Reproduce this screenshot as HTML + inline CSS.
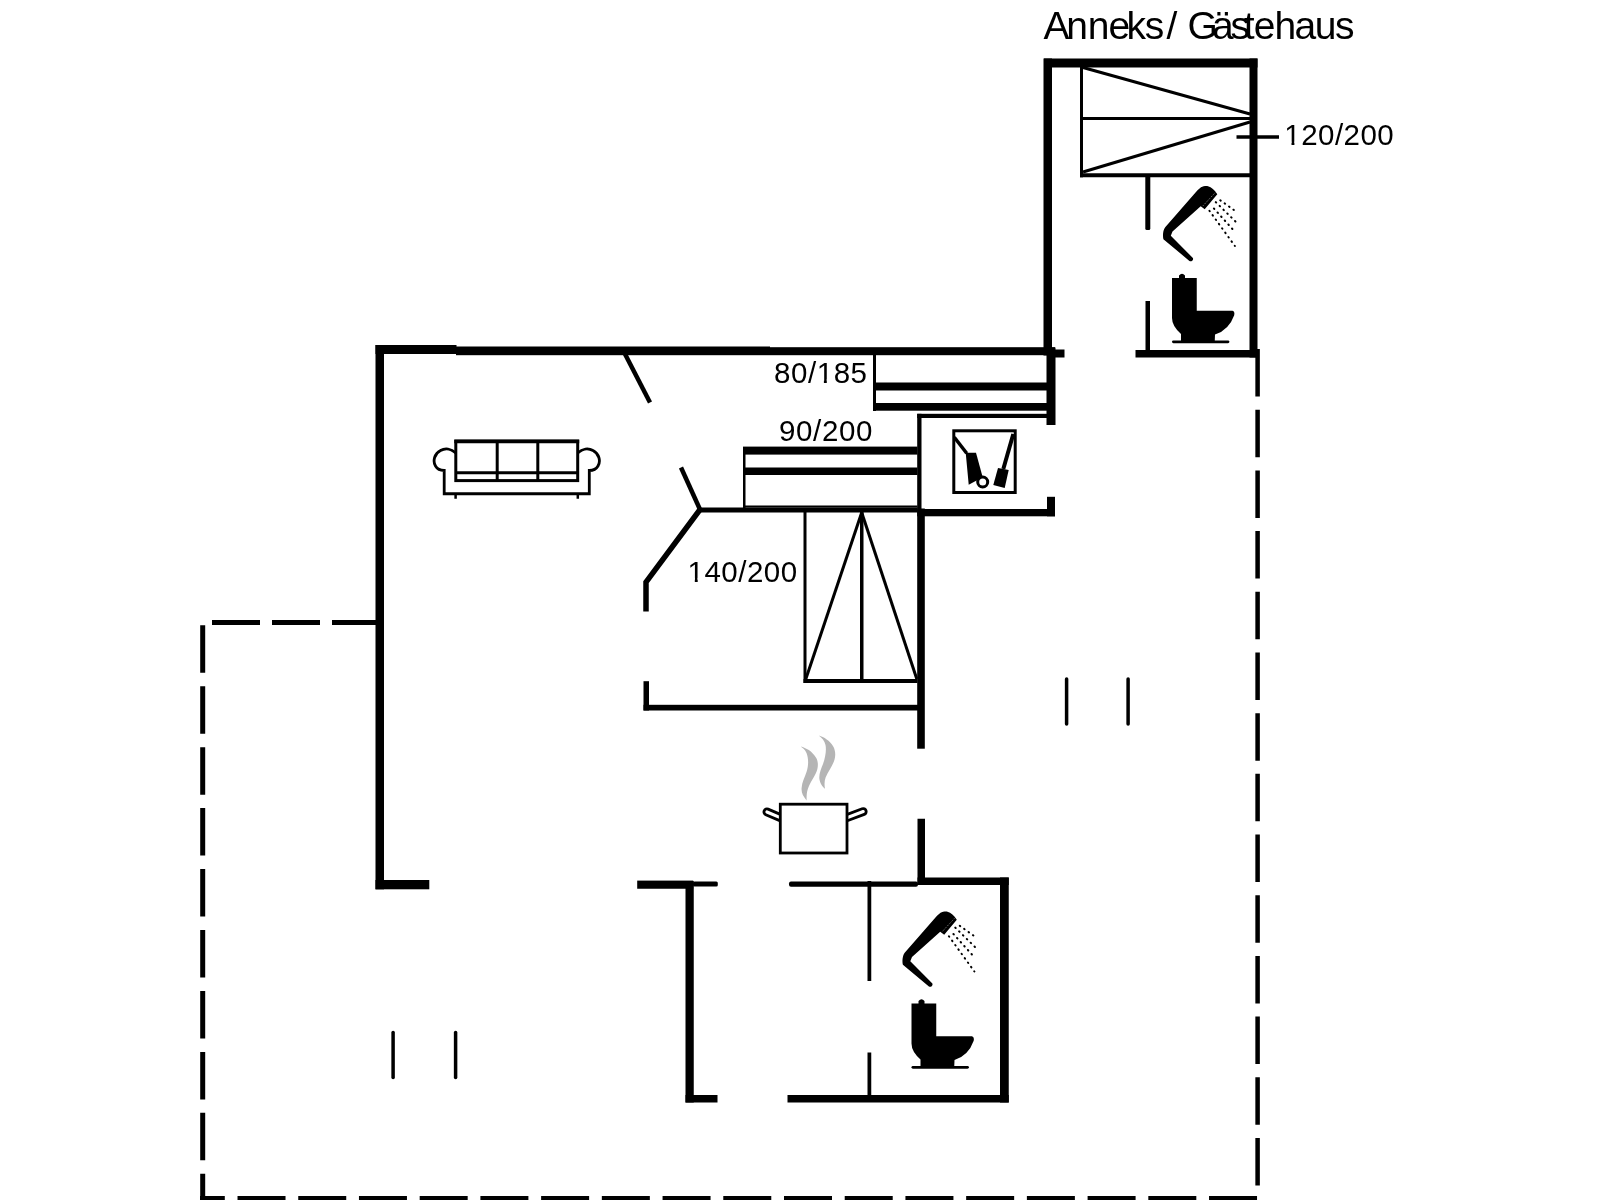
<!DOCTYPE html>
<html><head><meta charset="utf-8">
<style>
html,body{margin:0;padding:0;background:#fff;width:1600px;height:1200px;overflow:hidden}
svg{display:block;will-change:transform}
text{font-family:"Liberation Sans",sans-serif;fill:#000}
</style></head><body>
<svg width="1600" height="1200" viewBox="0 0 1600 1200">
<rect x="0" y="0" width="1600" height="1200" fill="#fff"/>
<g fill="#000">
<!-- annex walls -->
<rect x="1044" y="58.5" width="213.5" height="9"/>
<rect x="1043.5" y="58.5" width="8.5" height="297"/>
<rect x="1249.5" y="58.5" width="8" height="299"/>
<rect x="1135.5" y="350" width="122.5" height="7.5"/>
<rect x="1145.3" y="174" width="5" height="56" rx="1.5"/>
<rect x="1145.5" y="301" width="4.5" height="50"/>
<!-- main house walls -->
<rect x="375.5" y="345" width="81" height="9"/>
<rect x="456" y="346.5" width="314" height="8.7"/>
<rect x="770" y="347.2" width="285" height="8"/>
<rect x="1050" y="349.5" width="14.5" height="8"/>
<rect x="375.5" y="345" width="8.5" height="544.3"/>
<rect x="375.5" y="880" width="53.8" height="9.3"/>
<rect x="1046.5" y="347.5" width="9" height="77.5"/>
<rect x="917.2" y="413.8" width="4.3" height="95.2"/>
<rect x="917.2" y="508.5" width="7.6" height="240.2"/>
<rect x="1047" y="496.8" width="8" height="19.5"/>
<rect x="917.2" y="509" width="137.8" height="7.3"/>
<rect x="917.5" y="818.75" width="7.5" height="66.25"/>
<rect x="917.5" y="877.5" width="91.25" height="7.5"/>
<rect x="789" y="881.5" width="129" height="5.25" rx="2"/>
<rect x="1000" y="877.5" width="8.75" height="225"/>
<rect x="787.5" y="1095" width="221.25" height="7.5"/>
<rect x="867.5" y="881" width="3.75" height="100"/>
<rect x="867.5" y="1052.5" width="3.75" height="42.5"/>
<rect x="637.2" y="880.6" width="56" height="8.15"/>
<rect x="693" y="881.6" width="24.8" height="5" rx="1.5"/>
<rect x="685.5" y="881" width="8.25" height="221.5"/>
<rect x="685.5" y="1095" width="32" height="7.5"/>
<!-- bunk 80/185 -->
<rect x="873" y="355" width="3" height="56"/>
<rect x="873" y="382.5" width="174" height="8"/>
<rect x="873" y="403" width="174" height="7.7"/>
<rect x="917.2" y="413.8" width="130" height="4.2"/>
<!-- bed 90/200 -->
<rect x="743" y="446.6" width="174.5" height="8"/>
<rect x="743" y="467.5" width="174.5" height="7.5"/>
<rect x="743" y="447" width="2.5" height="62"/>
<rect x="743" y="505.5" width="174.5" height="2.1"/>
<rect x="698.6" y="507.5" width="219" height="5"/>
<!-- lower door frame -->
<rect x="643.5" y="681.2" width="5.5" height="29.3"/>
<rect x="643.5" y="704.8" width="275" height="5.7"/>
<!-- bed 140/200 -->
<rect x="803.5" y="512" width="3" height="171"/>
<rect x="803.5" y="679" width="114" height="4"/>
<rect x="860" y="512" width="3.5" height="169"/>
</g>
<g stroke="#000" fill="none" stroke-linecap="butt">
<!-- annex bed -->
<line x1="1081.5" y1="67" x2="1081.5" y2="177.3" stroke-width="3"/>
<line x1="1080" y1="175.3" x2="1250" y2="175.3" stroke-width="4"/>
<line x1="1081.5" y1="118.5" x2="1250" y2="118.5" stroke-width="3"/>
<line x1="1083" y1="67.5" x2="1250" y2="114" stroke-width="3"/>
<line x1="1250" y1="122" x2="1083" y2="172" stroke-width="3"/>
<line x1="1236.5" y1="137" x2="1279" y2="137" stroke-width="3.7"/>
<!-- doors -->
<line x1="625" y1="354" x2="650" y2="402.5" stroke-width="4.5"/>
<line x1="681" y1="467.5" x2="700" y2="509.5" stroke-width="4.5"/>
<polyline points="700,509.5 646,582.2 646,611.5" stroke-width="5.5"/>
<!-- bed 140 triangles -->
<line x1="861.7" y1="512.5" x2="805.5" y2="680" stroke-width="3"/>
<line x1="861.7" y1="512.5" x2="916.8" y2="679" stroke-width="3"/>
<!-- small lines -->
<line x1="393.1" y1="1032.5" x2="393.1" y2="1077.5" stroke-width="3.5" stroke-linecap="round"/>
<line x1="455.6" y1="1032.5" x2="455.6" y2="1077.5" stroke-width="3.5" stroke-linecap="round"/>
<line x1="1066.6" y1="679" x2="1066.6" y2="724" stroke-width="3.5" stroke-linecap="round"/>
<line x1="1128.1" y1="679" x2="1128.1" y2="724" stroke-width="3.5" stroke-linecap="round"/>
</g>
<!-- dashed outlines -->
<g stroke="#000" fill="none" stroke-width="5">
<line x1="202.7" y1="625.3" x2="202.7" y2="1200" stroke-dasharray="47.5 13.44"/>
<line x1="212" y1="622.4" x2="376" y2="622.4" stroke-dasharray="48 12"/>
<line x1="200" y1="1198.5" x2="1258" y2="1198.5" stroke-dasharray="48 12.72" stroke-dashoffset="23.2"/>
<line x1="1257.6" y1="349" x2="1257.6" y2="1196" stroke-dasharray="47.5 13.19" stroke-width="4.5"/>
</g>
<g>
<text x="1043.5 1066.2 1087.7 1108.6 1126.6 1144.8 1166.6" y="38.7" font-size="39">Anneks/</text>
<text x="1187.5 1212.0 1230.4 1243.7 1253.7 1274.6 1294.5 1314.7 1335.0" y="38.7" font-size="39">Gästehaus</text>
<text x="1284.3" y="145.3" font-size="29.5" letter-spacing="0.47">120/200</text>
<text x="774" y="382.7" font-size="29.5" letter-spacing="0.56">80/185</text>
<text x="779" y="441.3" font-size="29.5" letter-spacing="0.65">90/200</text>
<text x="687.6" y="581.5" font-size="29.5" letter-spacing="0.47">140/200</text>
</g>
<!-- arial-style 1 -->
<rect x="1285.30" y="141.70" width="6.2" height="4.2" fill="#fff"/>
<rect x="1294.40" y="141.70" width="5.9" height="4.2" fill="#fff"/>
<rect x="817.69" y="379.10" width="6.2" height="4.2" fill="#fff"/>
<rect x="826.79" y="379.10" width="5.9" height="4.2" fill="#fff"/>
<rect x="688.60" y="577.90" width="6.2" height="4.2" fill="#fff"/>
<rect x="697.70" y="577.90" width="5.9" height="4.2" fill="#fff"/>
<!-- bathroom fixtures -->
<g id="fix">
<path d="M1189.4 260.9 L1163.4 239.2 C1162.6 236 1162.8 230.5 1165.2 227.2 L1197.5 190.3 L1201 187.3 C1203 186.3 1206 185.8 1208 186.2 C1211.5 187 1214.5 190 1217.3 194.2 L1204.7 209.2 L1200.7 206.3 L1172.5 231.5 L1170.8 235.8 L1192.9 258 A2.4 2.4 0 0 1 1189.4 260.9 Z" fill="#000"/>
<line x1="1203" y1="205.8" x2="1215" y2="192.8" stroke="#888" stroke-width="0.9" stroke-dasharray="1.2 1.2"/>
<g stroke="#000" stroke-width="2" stroke-dasharray="0.6 4.8" stroke-linecap="round" fill="none">
<line x1="1220.25" y1="200.25" x2="1234.9" y2="210.75"/>
<line x1="1215.75" y1="202.1" x2="1235.6" y2="221.6"/>
<line x1="1213.9" y1="208.5" x2="1235.6" y2="232.5"/>
<line x1="1209.4" y1="210.75" x2="1234.9" y2="246"/>
</g>
<path d="M1172 278.1 L1179 278.1 L1179 275.5 Q1182 271.8 1185 275.5 L1185 278.1 L1196.75 278.1 L1196.75 310.75 L1232.5 310.75 Q1235 311.5 1234.2 315.2 Q1229 330 1215 334.5 L1214.75 341 L1181 341 L1181 334 Q1172 326 1172 318 Z" fill="#000"/>
<rect x="1172" y="340.4" width="57.4" height="2.8" rx="1.4" fill="#000"/>
</g>
<use href="#fix" transform="translate(-260.5 725.5)"/>
<!-- sofa -->
<g fill="none" stroke="#000" stroke-width="2.8">
<rect x="455.8" y="441" width="121.9" height="39.6" stroke-width="3"/>
<line x1="454.3" y1="441.5" x2="579.2" y2="441.5" stroke-width="3.4"/>
<line x1="497.2" y1="441" x2="497.2" y2="480.6" stroke-width="3"/>
<line x1="537.8" y1="441" x2="537.8" y2="480.6" stroke-width="3"/>
<line x1="455.8" y1="472.8" x2="577.7" y2="472.8" stroke-width="3"/>
<path d="M455.8 453 C451 448.5 445 448 440.5 450.5 C434.5 453.5 432.5 461 435.5 466 C437.5 469.5 441 470.5 444.2 470.5 V493.75 H589.3 V470.5 C592.5 470.5 596 469.5 598 466 C601 461 599 453.5 593 450.5 C588.5 448 582.5 448.5 577.7 453" stroke-linejoin="miter"/>
<line x1="455.6" y1="494" x2="455.6" y2="498.75" stroke-width="2.5"/>
<line x1="577.8" y1="494" x2="577.8" y2="498.75" stroke-width="2.5"/>
</g>
<!-- pot -->
<g fill="none" stroke="#000" stroke-width="2.8">
<rect x="780.3" y="804.2" width="66.7" height="48.8"/>
<path d="M780.3 814.34 L768.13 809.14 A3 3 0 0 0 765.77 814.66 L780.3 820.86"/>
<path d="M847.3 814.4 L862.14 808.79 A3 3 0 0 1 864.26 814.41 L847.3 820.8"/>
</g>
<g fill="#b5b5b5">
<path d="M800.6 746.6 C806 748 812 751 816.25 758.1 C818.5 762 818.5 768 815.6 773.75 C813 779 809 784 807.2 791.25 C806.5 795 806.6 798 806.6 800.6 C803 796 801.2 793 801.6 788 C802 782 804.5 778 806.5 772 C808.5 766 808.8 759 806.5 753 C805 750 803 748 800.6 746.6 Z"/>
<path d="M818.75 735.6 C824 737 830 741 833.1 746.25 C835.5 750 835.8 756 834.4 760 C832.5 766 828.5 771 825.6 777.5 C824.3 781 824.3 785 825 788.75 C822.5 787 820 783 819.4 779 C818.8 774 821 769 823 764 C825.5 757 826.5 750 825.5 745 C824.5 741 822 738 818.75 735.6 Z"/>
</g>
<!-- cleaning icon -->
<g>
<rect x="953.8" y="430.8" width="61.4" height="61.7" fill="none" stroke="#000" stroke-width="3"/>
<line x1="954.3" y1="437.3" x2="966.7" y2="453.3" stroke="#000" stroke-width="3.5"/>
<path d="M965.7 452.7 L976 452.7 L982.7 477.3 L968.7 484.7 Z" fill="#000"/>
<circle cx="982.7" cy="482" r="5" fill="#fff" stroke="#000" stroke-width="3"/>
<line x1="1013.3" y1="434" x2="1003.3" y2="469" stroke="#000" stroke-width="4"/>
<path d="M998 468 L1008.7 470 L1004.7 488 L993.3 485 Z" fill="#000"/>
</g>
</svg>
</body></html>
